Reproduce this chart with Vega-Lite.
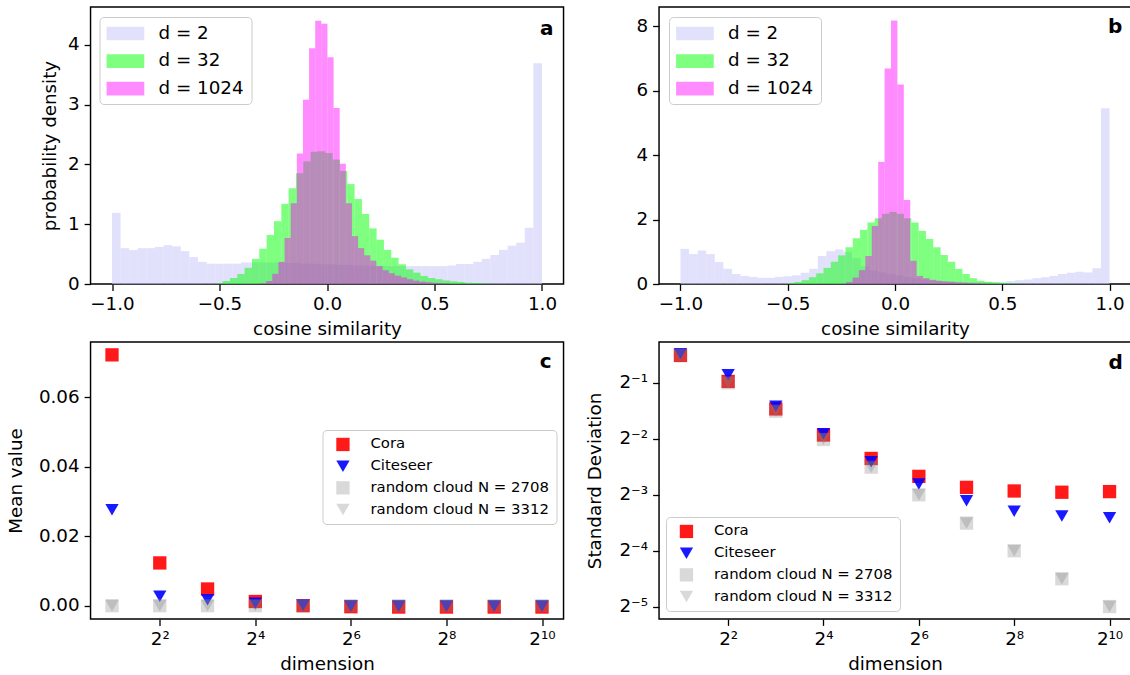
{
  "$schema": "https://vega.github.io/schema/vega-lite/v6.json",
  "padding": {"left": 5.5, "top": 6, "right": 0, "bottom": 0},
  "background": "white",
  "config": {
    "font": "DejaVu Sans",
    "view": {"stroke": "black", "strokeWidth": 1.46},
    "axis": {
      "labelFont": "DejaVu Sans", "labelFontSize": 18.3, "labelColor": "black",
      "titleFont": "DejaVu Sans", "titleFontSize": 18.3, "titleFontWeight": "normal", "titleColor": "black",
      "tickColor": "black", "tickSize": 6.4, "tickWidth": 1.3, "labelPadding": 5,
      "domain": false, "grid": false, "titlePadding": 8, "labelFlush": false, "labelOverlap": false
    },
    "legend": {"labelFont": "DejaVu Sans", "labelColor": "black", "labelLimit": 400}
  },
  "spacing": {"row": 2, "column": 20.5},
  "columns": 2,
  "datasets": {
    "hist": [
      {"p":"a","s":"d = 2","x0":-1.00,"x1":-0.96,"y":1.19},
      {"p":"a","s":"d = 2","x0":-0.96,"x1":-0.92,"y":0.60},
      {"p":"a","s":"d = 2","x0":-0.92,"x1":-0.88,"y":0.57},
      {"p":"a","s":"d = 2","x0":-0.88,"x1":-0.84,"y":0.60},
      {"p":"a","s":"d = 2","x0":-0.84,"x1":-0.80,"y":0.60},
      {"p":"a","s":"d = 2","x0":-0.80,"x1":-0.76,"y":0.62},
      {"p":"a","s":"d = 2","x0":-0.76,"x1":-0.72,"y":0.65},
      {"p":"a","s":"d = 2","x0":-0.72,"x1":-0.68,"y":0.63},
      {"p":"a","s":"d = 2","x0":-0.68,"x1":-0.64,"y":0.55},
      {"p":"a","s":"d = 2","x0":-0.64,"x1":-0.60,"y":0.45},
      {"p":"a","s":"d = 2","x0":-0.60,"x1":-0.56,"y":0.37},
      {"p":"a","s":"d = 2","x0":-0.56,"x1":-0.52,"y":0.34},
      {"p":"a","s":"d = 2","x0":-0.52,"x1":-0.48,"y":0.34},
      {"p":"a","s":"d = 2","x0":-0.48,"x1":-0.44,"y":0.34},
      {"p":"a","s":"d = 2","x0":-0.44,"x1":-0.40,"y":0.34},
      {"p":"a","s":"d = 2","x0":-0.40,"x1":-0.36,"y":0.36},
      {"p":"a","s":"d = 2","x0":-0.36,"x1":-0.32,"y":0.36},
      {"p":"a","s":"d = 2","x0":-0.32,"x1":-0.28,"y":0.36},
      {"p":"a","s":"d = 2","x0":-0.28,"x1":-0.24,"y":0.36},
      {"p":"a","s":"d = 2","x0":-0.24,"x1":-0.20,"y":0.36},
      {"p":"a","s":"d = 2","x0":-0.20,"x1":-0.16,"y":0.35},
      {"p":"a","s":"d = 2","x0":-0.16,"x1":-0.12,"y":0.35},
      {"p":"a","s":"d = 2","x0":-0.12,"x1":-0.08,"y":0.34},
      {"p":"a","s":"d = 2","x0":-0.08,"x1":-0.04,"y":0.34},
      {"p":"a","s":"d = 2","x0":-0.04,"x1":0.00,"y":0.33},
      {"p":"a","s":"d = 2","x0":0.00,"x1":0.04,"y":0.33},
      {"p":"a","s":"d = 2","x0":0.04,"x1":0.08,"y":0.32},
      {"p":"a","s":"d = 2","x0":0.08,"x1":0.12,"y":0.32},
      {"p":"a","s":"d = 2","x0":0.12,"x1":0.16,"y":0.31},
      {"p":"a","s":"d = 2","x0":0.16,"x1":0.20,"y":0.31},
      {"p":"a","s":"d = 2","x0":0.20,"x1":0.24,"y":0.30},
      {"p":"a","s":"d = 2","x0":0.24,"x1":0.28,"y":0.30},
      {"p":"a","s":"d = 2","x0":0.28,"x1":0.32,"y":0.30},
      {"p":"a","s":"d = 2","x0":0.32,"x1":0.36,"y":0.30},
      {"p":"a","s":"d = 2","x0":0.36,"x1":0.40,"y":0.30},
      {"p":"a","s":"d = 2","x0":0.40,"x1":0.44,"y":0.30},
      {"p":"a","s":"d = 2","x0":0.44,"x1":0.48,"y":0.30},
      {"p":"a","s":"d = 2","x0":0.48,"x1":0.52,"y":0.30},
      {"p":"a","s":"d = 2","x0":0.52,"x1":0.56,"y":0.30},
      {"p":"a","s":"d = 2","x0":0.56,"x1":0.60,"y":0.31},
      {"p":"a","s":"d = 2","x0":0.60,"x1":0.64,"y":0.335},
      {"p":"a","s":"d = 2","x0":0.64,"x1":0.68,"y":0.335},
      {"p":"a","s":"d = 2","x0":0.68,"x1":0.72,"y":0.37},
      {"p":"a","s":"d = 2","x0":0.72,"x1":0.76,"y":0.42},
      {"p":"a","s":"d = 2","x0":0.76,"x1":0.80,"y":0.485},
      {"p":"a","s":"d = 2","x0":0.80,"x1":0.84,"y":0.57},
      {"p":"a","s":"d = 2","x0":0.84,"x1":0.88,"y":0.64},
      {"p":"a","s":"d = 2","x0":0.88,"x1":0.92,"y":0.69},
      {"p":"a","s":"d = 2","x0":0.92,"x1":0.96,"y":0.94},
      {"p":"a","s":"d = 2","x0":0.96,"x1":1.00,"y":3.69},
      {"p":"a","s":"d = 32","x0":-0.5195,"x1":-0.4854,"y":0.01},
      {"p":"a","s":"d = 32","x0":-0.4854,"x1":-0.4513,"y":0.05},
      {"p":"a","s":"d = 32","x0":-0.4513,"x1":-0.4172,"y":0.10},
      {"p":"a","s":"d = 32","x0":-0.4172,"x1":-0.3831,"y":0.167},
      {"p":"a","s":"d = 32","x0":-0.3831,"x1":-0.3490,"y":0.27},
      {"p":"a","s":"d = 32","x0":-0.3490,"x1":-0.3149,"y":0.42},
      {"p":"a","s":"d = 32","x0":-0.3149,"x1":-0.2808,"y":0.59},
      {"p":"a","s":"d = 32","x0":-0.2808,"x1":-0.2467,"y":0.82},
      {"p":"a","s":"d = 32","x0":-0.2467,"x1":-0.2126,"y":1.05},
      {"p":"a","s":"d = 32","x0":-0.2126,"x1":-0.1785,"y":1.34},
      {"p":"a","s":"d = 32","x0":-0.1785,"x1":-0.1444,"y":1.60},
      {"p":"a","s":"d = 32","x0":-0.1444,"x1":-0.1103,"y":1.85},
      {"p":"a","s":"d = 32","x0":-0.1103,"x1":-0.0762,"y":2.05},
      {"p":"a","s":"d = 32","x0":-0.0762,"x1":-0.0421,"y":2.21},
      {"p":"a","s":"d = 32","x0":-0.0421,"x1":-0.0080,"y":2.22},
      {"p":"a","s":"d = 32","x0":-0.0080,"x1":0.0261,"y":2.19},
      {"p":"a","s":"d = 32","x0":0.0261,"x1":0.0602,"y":2.08},
      {"p":"a","s":"d = 32","x0":0.0602,"x1":0.0943,"y":1.89},
      {"p":"a","s":"d = 32","x0":0.0943,"x1":0.1284,"y":1.67},
      {"p":"a","s":"d = 32","x0":0.1284,"x1":0.1625,"y":1.42},
      {"p":"a","s":"d = 32","x0":0.1625,"x1":0.1966,"y":1.17},
      {"p":"a","s":"d = 32","x0":0.1966,"x1":0.2307,"y":0.93},
      {"p":"a","s":"d = 32","x0":0.2307,"x1":0.2648,"y":0.74},
      {"p":"a","s":"d = 32","x0":0.2648,"x1":0.2989,"y":0.57},
      {"p":"a","s":"d = 32","x0":0.2989,"x1":0.3330,"y":0.44},
      {"p":"a","s":"d = 32","x0":0.3330,"x1":0.3671,"y":0.33},
      {"p":"a","s":"d = 32","x0":0.3671,"x1":0.4012,"y":0.245},
      {"p":"a","s":"d = 32","x0":0.4012,"x1":0.4353,"y":0.19},
      {"p":"a","s":"d = 32","x0":0.4353,"x1":0.4694,"y":0.134},
      {"p":"a","s":"d = 32","x0":0.4694,"x1":0.5035,"y":0.10},
      {"p":"a","s":"d = 32","x0":0.5035,"x1":0.5376,"y":0.08},
      {"p":"a","s":"d = 32","x0":0.5376,"x1":0.5717,"y":0.06},
      {"p":"a","s":"d = 32","x0":0.5717,"x1":0.6058,"y":0.045},
      {"p":"a","s":"d = 32","x0":0.6058,"x1":0.6399,"y":0.033},
      {"p":"a","s":"d = 32","x0":0.6399,"x1":0.6740,"y":0.02},
      {"p":"a","s":"d = 32","x0":0.6740,"x1":0.7081,"y":0.015},
      {"p":"a","s":"d = 32","x0":0.7081,"x1":0.7422,"y":0.01},
      {"p":"a","s":"d = 1024","x0":-0.3114,"x1":-0.2829,"y":0.01},
      {"p":"a","s":"d = 1024","x0":-0.2829,"x1":-0.2544,"y":0.05},
      {"p":"a","s":"d = 1024","x0":-0.2544,"x1":-0.2259,"y":0.17},
      {"p":"a","s":"d = 1024","x0":-0.2259,"x1":-0.1974,"y":0.37},
      {"p":"a","s":"d = 1024","x0":-0.1974,"x1":-0.1689,"y":0.77},
      {"p":"a","s":"d = 1024","x0":-0.1689,"x1":-0.1404,"y":1.35},
      {"p":"a","s":"d = 1024","x0":-0.1404,"x1":-0.1119,"y":2.18},
      {"p":"a","s":"d = 1024","x0":-0.1119,"x1":-0.0834,"y":3.08},
      {"p":"a","s":"d = 1024","x0":-0.0834,"x1":-0.0549,"y":3.94},
      {"p":"a","s":"d = 1024","x0":-0.0549,"x1":-0.0264,"y":4.40},
      {"p":"a","s":"d = 1024","x0":-0.0264,"x1":0.0021,"y":4.35},
      {"p":"a","s":"d = 1024","x0":0.0021,"x1":0.0306,"y":3.79},
      {"p":"a","s":"d = 1024","x0":0.0306,"x1":0.0591,"y":2.94},
      {"p":"a","s":"d = 1024","x0":0.0591,"x1":0.0876,"y":2.01},
      {"p":"a","s":"d = 1024","x0":0.0876,"x1":0.1161,"y":1.35},
      {"p":"a","s":"d = 1024","x0":0.1161,"x1":0.1446,"y":0.80},
      {"p":"a","s":"d = 1024","x0":0.1446,"x1":0.1731,"y":0.60},
      {"p":"a","s":"d = 1024","x0":0.1731,"x1":0.2016,"y":0.48},
      {"p":"a","s":"d = 1024","x0":0.2016,"x1":0.2301,"y":0.39},
      {"p":"a","s":"d = 1024","x0":0.2301,"x1":0.2586,"y":0.30},
      {"p":"a","s":"d = 1024","x0":0.2586,"x1":0.2871,"y":0.23},
      {"p":"a","s":"d = 1024","x0":0.2871,"x1":0.3156,"y":0.18},
      {"p":"a","s":"d = 1024","x0":0.3156,"x1":0.3441,"y":0.14},
      {"p":"a","s":"d = 1024","x0":0.3441,"x1":0.3726,"y":0.11},
      {"p":"a","s":"d = 1024","x0":0.3726,"x1":0.4011,"y":0.08},
      {"p":"a","s":"d = 1024","x0":0.4011,"x1":0.4296,"y":0.056},
      {"p":"a","s":"d = 1024","x0":0.4296,"x1":0.4581,"y":0.04},
      {"p":"a","s":"d = 1024","x0":0.4581,"x1":0.4866,"y":0.03},
      {"p":"a","s":"d = 1024","x0":0.4866,"x1":0.5151,"y":0.02},
      {"p":"a","s":"d = 1024","x0":0.5151,"x1":0.5436,"y":0.015},
      {"p":"a","s":"d = 1024","x0":0.5436,"x1":0.5721,"y":0.01},
      {"p":"b","s":"d = 2","x0":-1.00,"x1":-0.96,"y":1.09},
      {"p":"b","s":"d = 2","x0":-0.96,"x1":-0.92,"y":0.93},
      {"p":"b","s":"d = 2","x0":-0.92,"x1":-0.88,"y":1.04},
      {"p":"b","s":"d = 2","x0":-0.88,"x1":-0.84,"y":0.93},
      {"p":"b","s":"d = 2","x0":-0.84,"x1":-0.80,"y":0.68},
      {"p":"b","s":"d = 2","x0":-0.80,"x1":-0.76,"y":0.47},
      {"p":"b","s":"d = 2","x0":-0.76,"x1":-0.72,"y":0.31},
      {"p":"b","s":"d = 2","x0":-0.72,"x1":-0.68,"y":0.25},
      {"p":"b","s":"d = 2","x0":-0.68,"x1":-0.64,"y":0.22},
      {"p":"b","s":"d = 2","x0":-0.64,"x1":-0.60,"y":0.19},
      {"p":"b","s":"d = 2","x0":-0.60,"x1":-0.56,"y":0.19},
      {"p":"b","s":"d = 2","x0":-0.56,"x1":-0.52,"y":0.22},
      {"p":"b","s":"d = 2","x0":-0.52,"x1":-0.48,"y":0.24},
      {"p":"b","s":"d = 2","x0":-0.48,"x1":-0.44,"y":0.27},
      {"p":"b","s":"d = 2","x0":-0.44,"x1":-0.40,"y":0.35},
      {"p":"b","s":"d = 2","x0":-0.40,"x1":-0.36,"y":0.47},
      {"p":"b","s":"d = 2","x0":-0.36,"x1":-0.32,"y":0.87},
      {"p":"b","s":"d = 2","x0":-0.32,"x1":-0.28,"y":1.02},
      {"p":"b","s":"d = 2","x0":-0.28,"x1":-0.24,"y":1.07},
      {"p":"b","s":"d = 2","x0":-0.24,"x1":-0.20,"y":1.00},
      {"p":"b","s":"d = 2","x0":-0.20,"x1":-0.16,"y":0.80},
      {"p":"b","s":"d = 2","x0":-0.16,"x1":-0.12,"y":0.55},
      {"p":"b","s":"d = 2","x0":-0.12,"x1":-0.08,"y":0.42},
      {"p":"b","s":"d = 2","x0":-0.08,"x1":-0.04,"y":0.36},
      {"p":"b","s":"d = 2","x0":-0.04,"x1":0.00,"y":0.31},
      {"p":"b","s":"d = 2","x0":0.00,"x1":0.04,"y":0.27},
      {"p":"b","s":"d = 2","x0":0.04,"x1":0.08,"y":0.22},
      {"p":"b","s":"d = 2","x0":0.08,"x1":0.12,"y":0.18},
      {"p":"b","s":"d = 2","x0":0.12,"x1":0.16,"y":0.14},
      {"p":"b","s":"d = 2","x0":0.16,"x1":0.20,"y":0.11},
      {"p":"b","s":"d = 2","x0":0.20,"x1":0.24,"y":0.09},
      {"p":"b","s":"d = 2","x0":0.24,"x1":0.28,"y":0.08},
      {"p":"b","s":"d = 2","x0":0.28,"x1":0.32,"y":0.07},
      {"p":"b","s":"d = 2","x0":0.32,"x1":0.36,"y":0.06},
      {"p":"b","s":"d = 2","x0":0.36,"x1":0.40,"y":0.06},
      {"p":"b","s":"d = 2","x0":0.40,"x1":0.44,"y":0.06},
      {"p":"b","s":"d = 2","x0":0.44,"x1":0.48,"y":0.06},
      {"p":"b","s":"d = 2","x0":0.48,"x1":0.52,"y":0.07},
      {"p":"b","s":"d = 2","x0":0.52,"x1":0.56,"y":0.09},
      {"p":"b","s":"d = 2","x0":0.56,"x1":0.60,"y":0.12},
      {"p":"b","s":"d = 2","x0":0.60,"x1":0.64,"y":0.14},
      {"p":"b","s":"d = 2","x0":0.64,"x1":0.68,"y":0.18},
      {"p":"b","s":"d = 2","x0":0.68,"x1":0.72,"y":0.21},
      {"p":"b","s":"d = 2","x0":0.72,"x1":0.76,"y":0.25},
      {"p":"b","s":"d = 2","x0":0.76,"x1":0.80,"y":0.31},
      {"p":"b","s":"d = 2","x0":0.80,"x1":0.84,"y":0.35},
      {"p":"b","s":"d = 2","x0":0.84,"x1":0.88,"y":0.38},
      {"p":"b","s":"d = 2","x0":0.88,"x1":0.92,"y":0.36},
      {"p":"b","s":"d = 2","x0":0.92,"x1":0.96,"y":0.49},
      {"p":"b","s":"d = 2","x0":0.96,"x1":1.00,"y":5.46},
      {"p":"b","s":"d = 32","x0":-0.5037,"x1":-0.4696,"y":0.02},
      {"p":"b","s":"d = 32","x0":-0.4696,"x1":-0.4355,"y":0.06},
      {"p":"b","s":"d = 32","x0":-0.4355,"x1":-0.4014,"y":0.12},
      {"p":"b","s":"d = 32","x0":-0.4014,"x1":-0.3673,"y":0.21},
      {"p":"b","s":"d = 32","x0":-0.3673,"x1":-0.3332,"y":0.33},
      {"p":"b","s":"d = 32","x0":-0.3332,"x1":-0.2991,"y":0.50},
      {"p":"b","s":"d = 32","x0":-0.2991,"x1":-0.2650,"y":0.69},
      {"p":"b","s":"d = 32","x0":-0.2650,"x1":-0.2309,"y":0.89},
      {"p":"b","s":"d = 32","x0":-0.2309,"x1":-0.1968,"y":1.14},
      {"p":"b","s":"d = 32","x0":-0.1968,"x1":-0.1627,"y":1.42},
      {"p":"b","s":"d = 32","x0":-0.1627,"x1":-0.1286,"y":1.68},
      {"p":"b","s":"d = 32","x0":-0.1286,"x1":-0.0945,"y":1.91},
      {"p":"b","s":"d = 32","x0":-0.0945,"x1":-0.0604,"y":2.04},
      {"p":"b","s":"d = 32","x0":-0.0604,"x1":-0.0263,"y":2.18},
      {"p":"b","s":"d = 32","x0":-0.0263,"x1":0.0078,"y":2.24},
      {"p":"b","s":"d = 32","x0":0.0078,"x1":0.0419,"y":2.18},
      {"p":"b","s":"d = 32","x0":0.0419,"x1":0.0760,"y":2.04},
      {"p":"b","s":"d = 32","x0":0.0760,"x1":0.1101,"y":1.91},
      {"p":"b","s":"d = 32","x0":0.1101,"x1":0.1442,"y":1.65},
      {"p":"b","s":"d = 32","x0":0.1442,"x1":0.1783,"y":1.40},
      {"p":"b","s":"d = 32","x0":0.1783,"x1":0.2124,"y":1.14},
      {"p":"b","s":"d = 32","x0":0.2124,"x1":0.2465,"y":0.90},
      {"p":"b","s":"d = 32","x0":0.2465,"x1":0.2806,"y":0.69},
      {"p":"b","s":"d = 32","x0":0.2806,"x1":0.3147,"y":0.47},
      {"p":"b","s":"d = 32","x0":0.3147,"x1":0.3488,"y":0.31},
      {"p":"b","s":"d = 32","x0":0.3488,"x1":0.3829,"y":0.18},
      {"p":"b","s":"d = 32","x0":0.3829,"x1":0.4170,"y":0.10},
      {"p":"b","s":"d = 32","x0":0.4170,"x1":0.4511,"y":0.07},
      {"p":"b","s":"d = 32","x0":0.4511,"x1":0.4852,"y":0.05},
      {"p":"b","s":"d = 32","x0":0.4852,"x1":0.5193,"y":0.03},
      {"p":"b","s":"d = 32","x0":0.5193,"x1":0.5534,"y":0.02},
      {"p":"b","s":"d = 32","x0":0.5534,"x1":0.5875,"y":0.01},
      {"p":"b","s":"d = 1024","x0":-0.2280,"x1":-0.1981,"y":0.06},
      {"p":"b","s":"d = 1024","x0":-0.1981,"x1":-0.1682,"y":0.20},
      {"p":"b","s":"d = 1024","x0":-0.1682,"x1":-0.1383,"y":0.43},
      {"p":"b","s":"d = 1024","x0":-0.1383,"x1":-0.1084,"y":0.87},
      {"p":"b","s":"d = 1024","x0":-0.1084,"x1":-0.0785,"y":1.80},
      {"p":"b","s":"d = 1024","x0":-0.0785,"x1":-0.0486,"y":3.79},
      {"p":"b","s":"d = 1024","x0":-0.0486,"x1":-0.0187,"y":6.69},
      {"p":"b","s":"d = 1024","x0":-0.0187,"x1":0.0112,"y":8.18},
      {"p":"b","s":"d = 1024","x0":0.0112,"x1":0.0411,"y":6.19},
      {"p":"b","s":"d = 1024","x0":0.0411,"x1":0.0710,"y":2.61},
      {"p":"b","s":"d = 1024","x0":0.0710,"x1":0.1009,"y":0.72},
      {"p":"b","s":"d = 1024","x0":0.1009,"x1":0.1308,"y":0.25},
      {"p":"b","s":"d = 1024","x0":0.1308,"x1":0.1607,"y":0.18},
      {"p":"b","s":"d = 1024","x0":0.1607,"x1":0.1906,"y":0.13},
      {"p":"b","s":"d = 1024","x0":0.1906,"x1":0.2205,"y":0.10},
      {"p":"b","s":"d = 1024","x0":0.2205,"x1":0.2504,"y":0.08},
      {"p":"b","s":"d = 1024","x0":0.2504,"x1":0.2803,"y":0.07},
      {"p":"b","s":"d = 1024","x0":0.2803,"x1":0.3102,"y":0.05},
      {"p":"b","s":"d = 1024","x0":0.3102,"x1":0.3401,"y":0.04},
      {"p":"b","s":"d = 1024","x0":0.3401,"x1":0.3700,"y":0.03},
      {"p":"b","s":"d = 1024","x0":0.3700,"x1":0.3999,"y":0.02},
      {"p":"b","s":"d = 1024","x0":0.3999,"x1":0.4298,"y":0.01}
    ],
    "pts": [
      {"p":"c","s":"Cora","d":2,"v":0.0722},
      {"p":"c","s":"Cora","d":4,"v":0.0123},
      {"p":"c","s":"Cora","d":8,"v":0.0048},
      {"p":"c","s":"Cora","d":16,"v":0.0012},
      {"p":"c","s":"Cora","d":32,"v":0.0000},
      {"p":"c","s":"Cora","d":64,"v":-0.0003},
      {"p":"c","s":"Cora","d":128,"v":-0.0004},
      {"p":"c","s":"Cora","d":256,"v":-0.0004},
      {"p":"c","s":"Cora","d":512,"v":-0.0004},
      {"p":"c","s":"Cora","d":1024,"v":-0.0004},
      {"p":"c","s":"Citeseer","d":2,"v":0.0276},
      {"p":"c","s":"Citeseer","d":4,"v":0.0027},
      {"p":"c","s":"Citeseer","d":8,"v":0.0017},
      {"p":"c","s":"Citeseer","d":16,"v":0.0007},
      {"p":"c","s":"Citeseer","d":32,"v":0.0001},
      {"p":"c","s":"Citeseer","d":64,"v":-0.0001},
      {"p":"c","s":"Citeseer","d":128,"v":-0.0001},
      {"p":"c","s":"Citeseer","d":256,"v":-0.0001},
      {"p":"c","s":"Citeseer","d":512,"v":-0.0001},
      {"p":"c","s":"Citeseer","d":1024,"v":-0.0001},
      {"p":"c","s":"random cloud N = 2708","d":2,"v":0.0},
      {"p":"c","s":"random cloud N = 2708","d":4,"v":0.0},
      {"p":"c","s":"random cloud N = 2708","d":8,"v":0.0},
      {"p":"c","s":"random cloud N = 2708","d":16,"v":0.0},
      {"p":"c","s":"random cloud N = 2708","d":32,"v":0.0},
      {"p":"c","s":"random cloud N = 2708","d":64,"v":0.0},
      {"p":"c","s":"random cloud N = 2708","d":128,"v":0.0},
      {"p":"c","s":"random cloud N = 2708","d":256,"v":0.0},
      {"p":"c","s":"random cloud N = 2708","d":512,"v":0.0},
      {"p":"c","s":"random cloud N = 2708","d":1024,"v":0.0},
      {"p":"c","s":"random cloud N = 3312","d":2,"v":0.0},
      {"p":"c","s":"random cloud N = 3312","d":4,"v":0.0},
      {"p":"c","s":"random cloud N = 3312","d":8,"v":0.0},
      {"p":"c","s":"random cloud N = 3312","d":16,"v":0.0},
      {"p":"c","s":"random cloud N = 3312","d":32,"v":0.0},
      {"p":"c","s":"random cloud N = 3312","d":64,"v":0.0},
      {"p":"c","s":"random cloud N = 3312","d":128,"v":0.0},
      {"p":"c","s":"random cloud N = 3312","d":256,"v":0.0},
      {"p":"c","s":"random cloud N = 3312","d":512,"v":0.0},
      {"p":"c","s":"random cloud N = 3312","d":1024,"v":0.0},
      {"p":"d","s":"Cora","d":2,"v":0.702},
      {"p":"d","s":"Cora","d":4,"v":0.509},
      {"p":"d","s":"Cora","d":8,"v":0.362},
      {"p":"d","s":"Cora","d":16,"v":0.262},
      {"p":"d","s":"Cora","d":32,"v":0.196},
      {"p":"d","s":"Cora","d":64,"v":0.157},
      {"p":"d","s":"Cora","d":128,"v":0.137},
      {"p":"d","s":"Cora","d":256,"v":0.131},
      {"p":"d","s":"Cora","d":512,"v":0.129},
      {"p":"d","s":"Cora","d":1024,"v":0.130},
      {"p":"d","s":"Citeseer","d":2,"v":0.717},
      {"p":"d","s":"Citeseer","d":4,"v":0.552},
      {"p":"d","s":"Citeseer","d":8,"v":0.374},
      {"p":"d","s":"Citeseer","d":16,"v":0.266},
      {"p":"d","s":"Citeseer","d":32,"v":0.188},
      {"p":"d","s":"Citeseer","d":64,"v":0.143},
      {"p":"d","s":"Citeseer","d":128,"v":0.116},
      {"p":"d","s":"Citeseer","d":256,"v":0.102},
      {"p":"d","s":"Citeseer","d":512,"v":0.096},
      {"p":"d","s":"Citeseer","d":1024,"v":0.094},
      {"p":"d","s":"random cloud N = 2708","d":2,"v":0.705},
      {"p":"d","s":"random cloud N = 2708","d":4,"v":0.500},
      {"p":"d","s":"random cloud N = 2708","d":8,"v":0.352},
      {"p":"d","s":"random cloud N = 2708","d":16,"v":0.248},
      {"p":"d","s":"random cloud N = 2708","d":32,"v":0.176},
      {"p":"d","s":"random cloud N = 2708","d":64,"v":0.125},
      {"p":"d","s":"random cloud N = 2708","d":128,"v":0.088},
      {"p":"d","s":"random cloud N = 2708","d":256,"v":0.0625},
      {"p":"d","s":"random cloud N = 2708","d":512,"v":0.0442},
      {"p":"d","s":"random cloud N = 2708","d":1024,"v":0.0313},
      {"p":"d","s":"random cloud N = 3312","d":2,"v":0.705},
      {"p":"d","s":"random cloud N = 3312","d":4,"v":0.500},
      {"p":"d","s":"random cloud N = 3312","d":8,"v":0.353},
      {"p":"d","s":"random cloud N = 3312","d":16,"v":0.249},
      {"p":"d","s":"random cloud N = 3312","d":32,"v":0.176},
      {"p":"d","s":"random cloud N = 3312","d":64,"v":0.125},
      {"p":"d","s":"random cloud N = 3312","d":128,"v":0.088},
      {"p":"d","s":"random cloud N = 3312","d":256,"v":0.0625},
      {"p":"d","s":"random cloud N = 3312","d":512,"v":0.0442},
      {"p":"d","s":"random cloud N = 3312","d":1024,"v":0.0313}
    ]
  },
  "concat": [
    {
      "width": 473, "height": 277,
      "layer": [
        {
          "data": {"name": "hist"},
          "transform": [{"filter": "datum.p == 'a'"}],
          "mark": {"type": "rect", "strokeWidth": 0},
          "encoding": {
            "x": {"field": "x0", "type": "quantitative", "scale": {"domain": [-1.1, 1.1], "nice": false, "zero": false},
                  "axis": {"values": [-1, -0.5, 0, 0.5, 1], "format": ".1f", "title": "cosine similarity"}},
            "x2": {"field": "x1"},
            "y": {"field": "y", "type": "quantitative", "stack": null, "scale": {"domain": [0, 4.63], "nice": false},
                  "axis": {"values": [0, 1, 2, 3, 4], "format": "d", "title": "probability density"}},
            "y2": {"datum": 0},
            "color": {"field": "s", "type": "nominal",
                      "scale": {"domain": ["d = 2", "d = 32", "d = 1024"], "range": ["rgba(205,205,250,0.6)", "rgba(0,255,0,0.5)", "rgba(255,0,255,0.45)"]},
                      "legend": {"title": null, "orient": "none", "legendX": 9, "legendY": 10,
                                 "symbolType": "M-1,-0.727H3V0.727H-1Z", "symbolSize": 355, "symbolStrokeWidth": 0,
                                 "labelFontSize": 18.3, "labelOffset": 33, "padding": 7, "rowPadding": 8.6,
                                 "strokeColor": "#cccccc", "fillColor": "rgba(255,255,255,0.8)", "cornerRadius": 4}}
          }
        },
        {
          "data": {"values": [{}]},
          "mark": {"type": "text", "text": "a", "fontWeight": "bold", "fontSize": 20, "align": "right", "baseline": "middle"},
          "encoding": {"x": {"datum": 1.054}, "y": {"datum": 4.26}}
        }
      ]
    },
    {
      "width": 472, "height": 277,
      "layer": [
        {
          "data": {"name": "hist"},
          "transform": [{"filter": "datum.p == 'b'"}],
          "mark": {"type": "rect", "strokeWidth": 0},
          "encoding": {
            "x": {"field": "x0", "type": "quantitative", "scale": {"domain": [-1.1, 1.1], "nice": false, "zero": false},
                  "axis": {"values": [-1, -0.5, 0, 0.5, 1], "format": ".1f", "title": "cosine similarity"}},
            "x2": {"field": "x1"},
            "y": {"field": "y", "type": "quantitative", "stack": null, "scale": {"domain": [0, 8.6], "nice": false},
                  "axis": {"values": [0, 2, 4, 6, 8], "format": "d", "title": null}},
            "y2": {"datum": 0},
            "color": {"field": "s", "type": "nominal",
                      "scale": {"domain": ["d = 2", "d = 32", "d = 1024"], "range": ["rgba(205,205,250,0.6)", "rgba(0,255,0,0.5)", "rgba(255,0,255,0.45)"]},
                      "legend": {"title": null, "orient": "none", "legendX": 10, "legendY": 10,
                                 "symbolType": "M-1,-0.727H3V0.727H-1Z", "symbolSize": 355, "symbolStrokeWidth": 0,
                                 "labelFontSize": 18.3, "labelOffset": 33, "padding": 7, "rowPadding": 8.6,
                                 "strokeColor": "#cccccc", "fillColor": "rgba(255,255,255,0.8)", "cornerRadius": 4}}
          }
        },
        {
          "data": {"values": [{}]},
          "mark": {"type": "text", "text": "b", "fontWeight": "bold", "fontSize": 20, "align": "right", "baseline": "middle"},
          "encoding": {"x": {"datum": 1.059}, "y": {"datum": 7.98}}
        }
      ]
    },
    {
      "width": 473, "height": 277,
      "layer": [
        {
          "data": {"name": "pts"},
          "transform": [{"filter": "datum.p == 'c'"}],
          "mark": {"type": "point", "filled": true, "opacity": 1, "size": 177, "strokeWidth": 0},
          "encoding": {
            "x": {"field": "d", "type": "quantitative", "scale": {"type": "log", "base": 2, "domain": [1.464, 1398.8], "nice": false},
                  "axis": {"values": [4, 16, 64, 256, 1024], "title": "dimension",
                           "labelExpr": "datum.value == 4 ? '2²' : datum.value == 16 ? '2⁴' : datum.value == 64 ? '2⁶' : datum.value == 256 ? '2⁸' : '2¹⁰'"}},
            "y": {"field": "v", "type": "quantitative", "scale": {"domain": [-0.00384, 0.0759], "nice": false, "zero": false},
                  "axis": {"values": [0, 0.02, 0.04, 0.06], "format": ".2f", "title": "Mean value", "titlePadding": 13}},
            "color": {"field": "s", "type": "nominal",
                      "scale": {"domain": ["Cora", "Citeseer", "random cloud N = 2708", "random cloud N = 3312"], "range": ["rgba(255,0,0,0.9)", "rgba(0,0,255,0.9)", "rgba(128,128,128,0.3)", "rgba(128,128,128,0.3)"]},
                      "legend": {"title": null, "orient": "none", "legendX": 232, "legendY": 88,
                                 "symbolSize": 177, "symbolStrokeWidth": 0, "labelFontSize": 14.9, "labelOffset": 20,
                                 "padding": 7, "rowPadding": 5.7, "symbolOffset": 6,
                                 "strokeColor": "#cccccc", "fillColor": "rgba(255,255,255,0.8)", "cornerRadius": 4}},
            "shape": {"field": "s", "type": "nominal",
                      "scale": {"domain": ["Cora", "Citeseer", "random cloud N = 2708", "random cloud N = 3312"], "range": ["square", "triangle-down", "square", "triangle-down"]},
                      "legend": {"title": null, "orient": "none", "legendX": 232, "legendY": 88,
                                 "symbolSize": 177, "symbolStrokeWidth": 0, "labelFontSize": 14.9, "labelOffset": 20,
                                 "padding": 7, "rowPadding": 5.7, "symbolOffset": 6,
                                 "strokeColor": "#cccccc", "fillColor": "rgba(255,255,255,0.8)", "cornerRadius": 4}}
          }
        },
        {
          "data": {"values": [{}]},
          "mark": {"type": "text", "text": "c", "fontWeight": "bold", "fontSize": 20, "align": "right", "baseline": "middle"},
          "encoding": {"x": {"datum": 1176}, "y": {"datum": 0.0701}}
        }
      ]
    },
    {
      "width": 472, "height": 277,
      "layer": [
        {
          "data": {"name": "pts"},
          "transform": [{"filter": "datum.p == 'd'"}],
          "mark": {"type": "point", "filled": true, "opacity": 1, "size": 177, "strokeWidth": 0},
          "encoding": {
            "x": {"field": "d", "type": "quantitative", "scale": {"type": "log", "base": 2, "domain": [1.464, 1398.8], "nice": false},
                  "axis": {"values": [4, 16, 64, 256, 1024], "title": "dimension",
                           "labelExpr": "datum.value == 4 ? '2²' : datum.value == 16 ? '2⁴' : datum.value == 64 ? '2⁶' : datum.value == 256 ? '2⁸' : '2¹⁰'"}},
            "y": {"field": "v", "type": "quantitative", "scale": {"type": "log", "base": 2, "domain": [0.02683, 0.8293], "nice": false},
                  "axis": {"values": [0.5, 0.25, 0.125, 0.0625, 0.03125], "title": "Standard Deviation", "titlePadding": 14,
                           "labelExpr": "datum.value == 0.5 ? '2⁻¹' : datum.value == 0.25 ? '2⁻²' : datum.value == 0.125 ? '2⁻³' : datum.value == 0.0625 ? '2⁻⁴' : '2⁻⁵'"}},
            "color": {"field": "s", "type": "nominal",
                      "scale": {"domain": ["Cora", "Citeseer", "random cloud N = 2708", "random cloud N = 3312"], "range": ["rgba(255,0,0,0.9)", "rgba(0,0,255,0.9)", "rgba(128,128,128,0.3)", "rgba(128,128,128,0.3)"]},
                      "legend": {"title": null, "orient": "none", "legendX": 7, "legendY": 175,
                                 "symbolSize": 177, "symbolStrokeWidth": 0, "labelFontSize": 14.9, "labelOffset": 20,
                                 "padding": 7, "rowPadding": 5.7, "symbolOffset": 6,
                                 "strokeColor": "#cccccc", "fillColor": "rgba(255,255,255,0.8)", "cornerRadius": 4}},
            "shape": {"field": "s", "type": "nominal",
                      "scale": {"domain": ["Cora", "Citeseer", "random cloud N = 2708", "random cloud N = 3312"], "range": ["square", "triangle-down", "square", "triangle-down"]},
                      "legend": {"title": null, "orient": "none", "legendX": 7, "legendY": 175,
                                 "symbolSize": 177, "symbolStrokeWidth": 0, "labelFontSize": 14.9, "labelOffset": 20,
                                 "padding": 7, "rowPadding": 5.7, "symbolOffset": 6,
                                 "strokeColor": "#cccccc", "fillColor": "rgba(255,255,255,0.8)", "cornerRadius": 4}}
          }
        },
        {
          "data": {"values": [{}]},
          "mark": {"type": "text", "text": "d", "fontWeight": "bold", "fontSize": 20, "align": "right", "baseline": "middle"},
          "encoding": {"x": {"datum": 1243}, "y": {"datum": 0.641}}
        }
      ]
    }
  ],
  "resolve": {"scale": {"color": "independent", "shape": "independent"}, "legend": {"color": "independent", "shape": "independent"}}
}
